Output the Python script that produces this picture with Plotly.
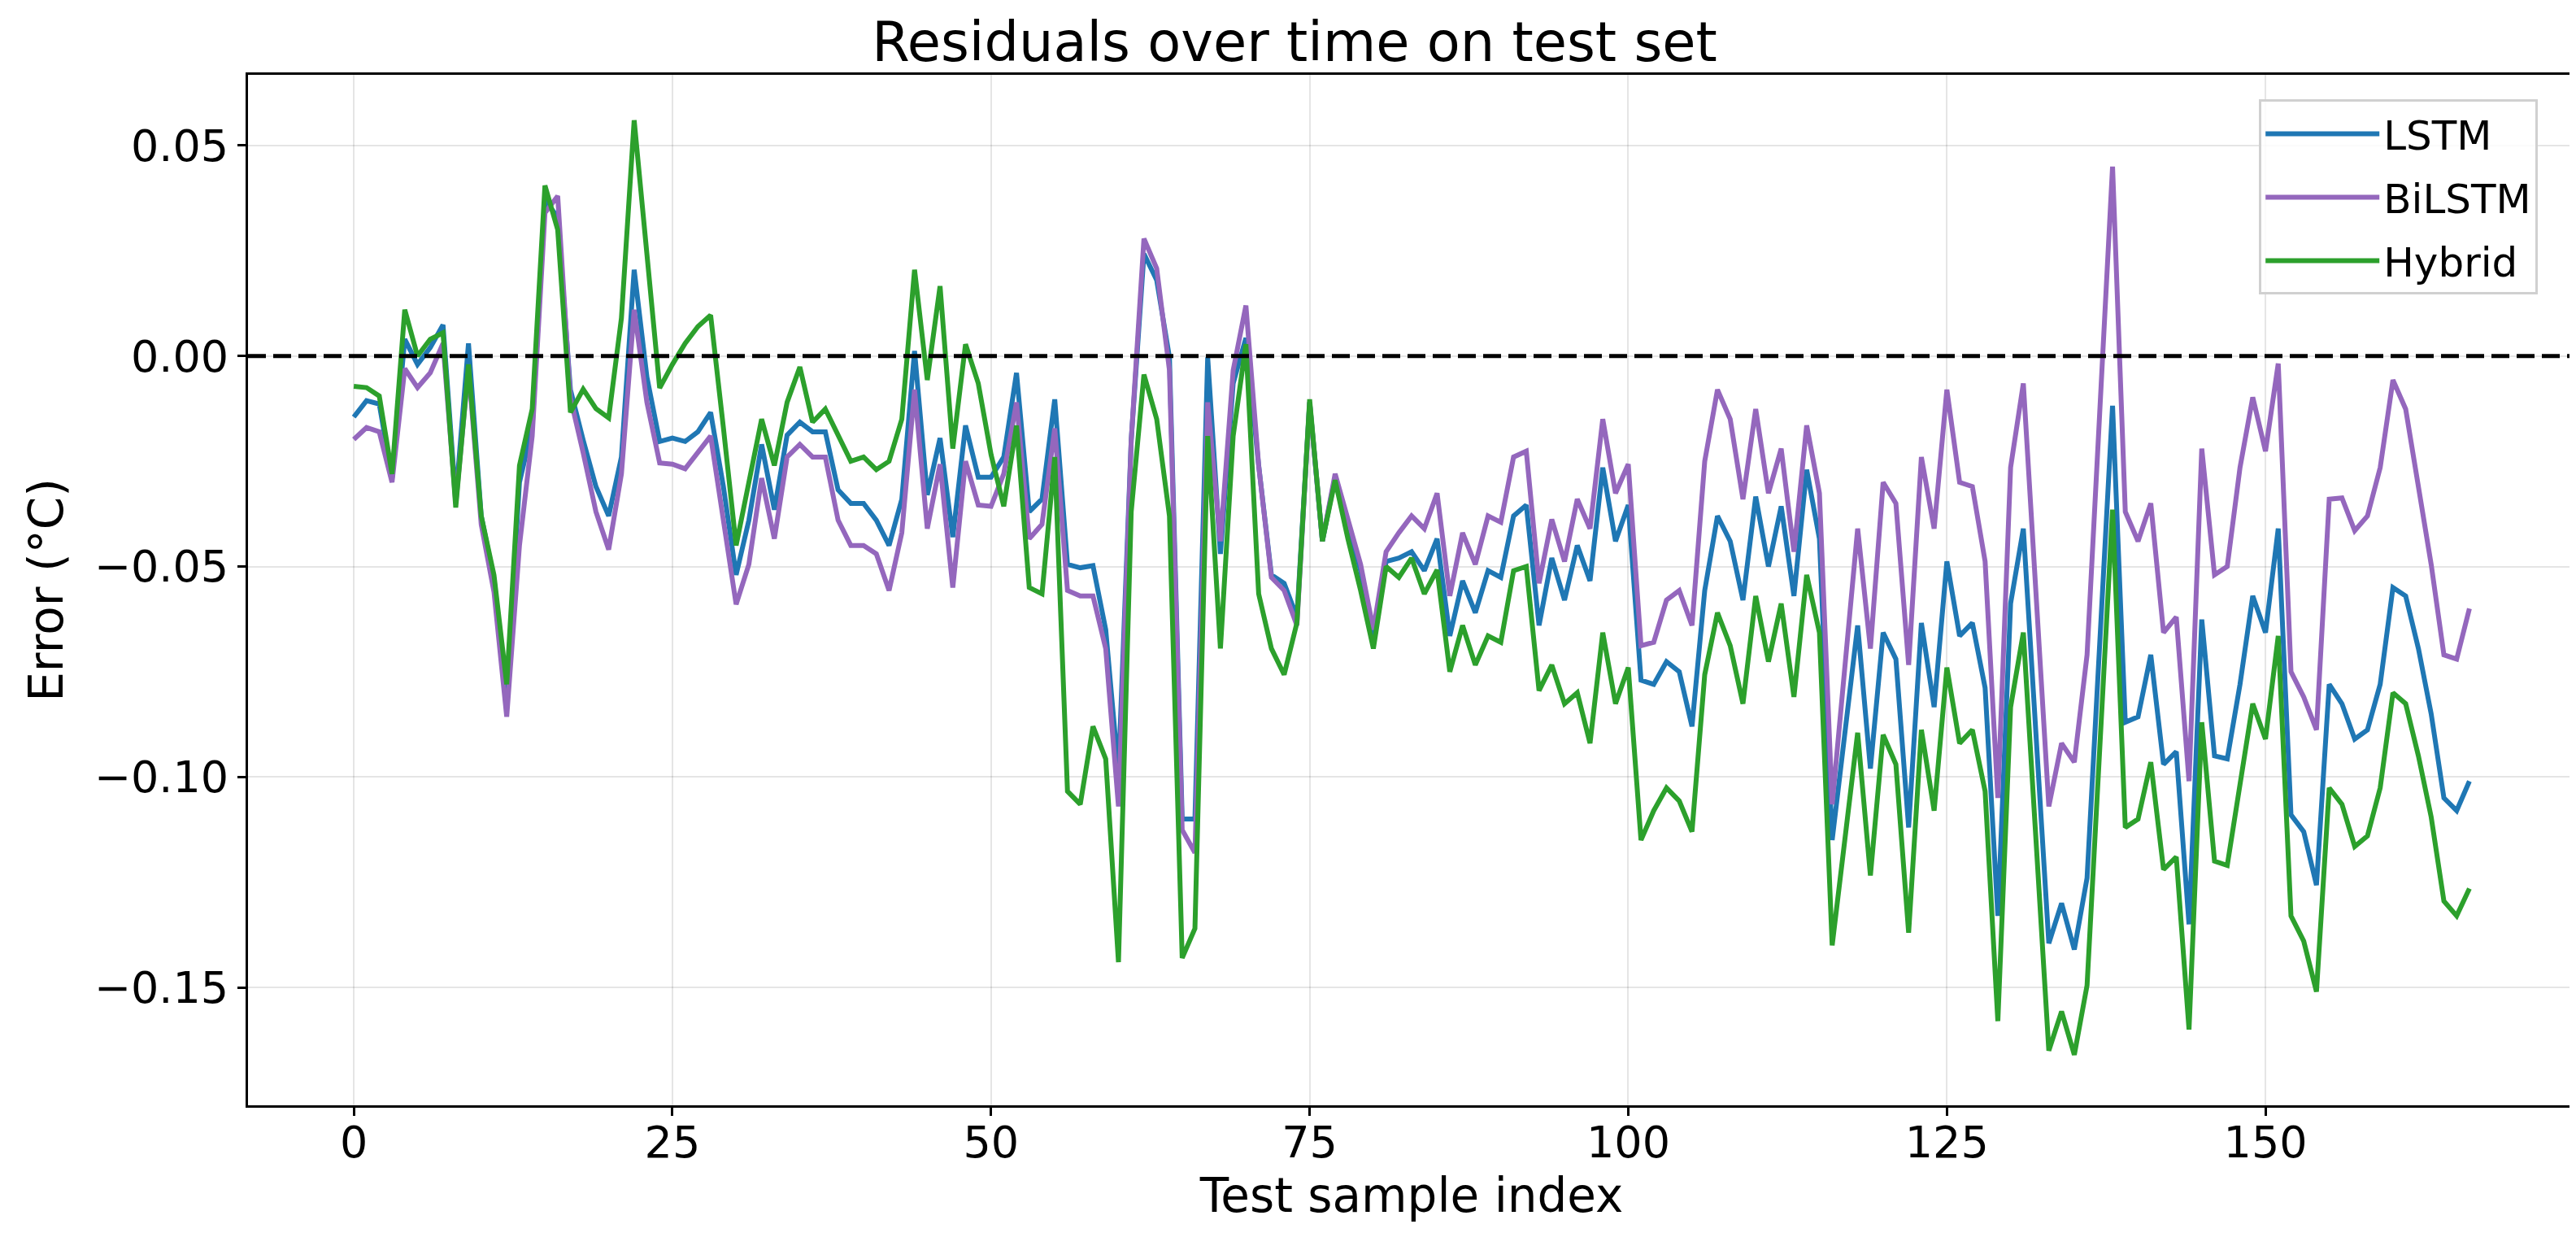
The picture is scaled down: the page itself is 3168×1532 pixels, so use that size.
import plotly.graph_objects as go

lstm = [-0.0145, -0.0106, -0.0114, -0.029, 0.004, -0.002, 0.002, 0.0074, -0.034, 0.003,
        -0.038, -0.053, -0.080, -0.030, -0.017, 0.037, 0.033, -0.008, -0.020, -0.031,
        -0.038, -0.024, 0.0205, -0.005, -0.0203, -0.0195, -0.0203, -0.018, -0.0134, -0.031,
        -0.052, -0.039, -0.021, -0.0365, -0.0188, -0.0157, -0.018, -0.018, -0.0318, -0.035,
        -0.035, -0.039, -0.045, -0.034, 0.0012, -0.033, -0.0195, -0.043, -0.0165, -0.0288,
        -0.0288, -0.024, -0.004, -0.037, -0.034, -0.0103, -0.0495, -0.0503, -0.0498, -0.065,
        -0.099, -0.020, 0.0243, 0.018, -0.0003, -0.110, -0.110, -0.0003, -0.047, -0.0065,
        0.0043, -0.026, -0.052, -0.054, -0.062, -0.011, -0.044, -0.0288, -0.040, -0.051,
        -0.0665, -0.0488, -0.048, -0.0465, -0.051, -0.0434, -0.0665, -0.0534, -0.061, -0.051,
        -0.0526, -0.038, -0.0354, -0.064, -0.048, -0.058, -0.045, -0.0534, -0.0265, -0.044,
        -0.0354, -0.077, -0.078, -0.0726, -0.075, -0.088, -0.0557, -0.038, -0.044, -0.058,
        -0.0334, -0.050, -0.0357, -0.057, -0.027, -0.0434, -0.115, -0.0888, -0.064, -0.098,
        -0.0657, -0.072, -0.112, -0.0634, -0.0834, -0.0488, -0.0665, -0.0634, -0.0788, -0.133,
        -0.0588, -0.041, -0.091, -0.1395, -0.130, -0.141, -0.124, -0.068, -0.0118, -0.087,
        -0.0857, -0.071, -0.097, -0.094, -0.135, -0.0626, -0.095, -0.0957, -0.078, -0.057,
        -0.0657, -0.041, -0.109, -0.113, -0.1257, -0.078, -0.0826, -0.091, -0.0888, -0.078,
        -0.055, -0.057, -0.0695, -0.085, -0.105, -0.108, -0.101]

bilstm = [-0.0198, -0.017, -0.018, -0.030, -0.003, -0.0075, -0.004, 0.003, -0.035, -0.003,
          -0.040, -0.056, -0.0857, -0.045, -0.019, 0.034, 0.038, -0.010, -0.023, -0.037,
          -0.046, -0.028, 0.011, -0.011, -0.0254, -0.0257, -0.0268, -0.023, -0.019, -0.039,
          -0.059, -0.0495, -0.029, -0.0434, -0.024, -0.021, -0.024, -0.024, -0.039, -0.045,
          -0.045, -0.047, -0.0557, -0.042, -0.008, -0.041, -0.0257, -0.055, -0.025, -0.0354,
          -0.0357, -0.028, -0.011, -0.0434, -0.040, -0.0172, -0.0557, -0.057, -0.057, -0.0695,
          -0.107, -0.020, 0.0279, 0.0208, -0.0034, -0.1126, -0.118, -0.011, -0.044, -0.0034,
          0.012, -0.026, -0.0526, -0.0557, -0.064, -0.011, -0.044, -0.028, -0.039, -0.0495,
          -0.065, -0.0465, -0.042, -0.038, -0.041, -0.0326, -0.057, -0.042, -0.0495, -0.038,
          -0.0395, -0.024, -0.0226, -0.054, -0.0388, -0.0488, -0.034, -0.041, -0.015, -0.0326,
          -0.0257, -0.0688, -0.068, -0.058, -0.0557, -0.064, -0.025, -0.008, -0.015, -0.034,
          -0.0126, -0.0326, -0.022, -0.0465, -0.0165, -0.0326, -0.1065, -0.074, -0.041, -0.0695,
          -0.030, -0.035, -0.0734, -0.024, -0.041, -0.008, -0.030, -0.031, -0.0488, -0.105,
          -0.0265, -0.0065, -0.057, -0.107, -0.092, -0.0965, -0.071, -0.0126, 0.045, -0.037,
          -0.044, -0.035, -0.0657, -0.062, -0.101, -0.022, -0.052, -0.050, -0.0265, -0.0098,
          -0.0226, -0.0018, -0.075, -0.081, -0.0888, -0.034, -0.0337, -0.0415, -0.038, -0.0265,
          -0.0057, -0.0126, -0.031, -0.0495, -0.071, -0.072, -0.060]

hybrid = [-0.0072, -0.0075, -0.0095, -0.028, 0.011, 0.0, 0.004, 0.0055, -0.036, -0.002,
          -0.038, -0.052, -0.078, -0.026, -0.0126, 0.0405, 0.030, -0.0134, -0.0079, -0.0125,
          -0.0147, 0.009, 0.056, 0.024, -0.0076, -0.002, 0.003, 0.007, 0.0097, -0.017,
          -0.045, -0.030, -0.015, -0.026, -0.011, -0.0026, -0.0157, -0.0126, -0.019, -0.025,
          -0.024, -0.027, -0.025, -0.015, 0.0205, -0.0057, 0.0166, -0.022, 0.0028, -0.0065,
          -0.0234, -0.0357, -0.0165, -0.055, -0.0565, -0.024, -0.1034, -0.1065, -0.088, -0.0957,
          -0.144, -0.037, -0.0044, -0.015, -0.038, -0.143, -0.136, -0.019, -0.0695, -0.019,
          0.0028, -0.0565, -0.0695, -0.0757, -0.0634, -0.0103, -0.044, -0.0295, -0.0434, -0.0557,
          -0.0695, -0.050, -0.0526, -0.048, -0.0565, -0.0508, -0.075, -0.064, -0.0734, -0.0665,
          -0.068, -0.051, -0.050, -0.0795, -0.0734, -0.0826, -0.080, -0.092, -0.0657, -0.0826,
          -0.074, -0.115, -0.108, -0.1026, -0.1057, -0.113, -0.0757, -0.061, -0.0688, -0.0826,
          -0.057, -0.0726, -0.0588, -0.081, -0.052, -0.0657, -0.140, -0.114, -0.0895, -0.1234,
          -0.090, -0.097, -0.137, -0.0888, -0.108, -0.074, -0.092, -0.0888, -0.1034, -0.158,
          -0.0834, -0.0657, -0.1157, -0.165, -0.1557, -0.166, -0.1495, -0.0926, -0.0365, -0.112,
          -0.110, -0.0965, -0.122, -0.119, -0.160, -0.087, -0.120, -0.121, -0.101, -0.0826,
          -0.091, -0.0665, -0.133, -0.139, -0.151, -0.1026, -0.1065, -0.1165, -0.114, -0.1026,
          -0.080, -0.0826, -0.095, -0.1095, -0.1295, -0.133, -0.1265]

series_names = ["LSTM", "BiLSTM", "Hybrid"]
series_colors = ["#1f77b4", "#9467bd", "#2ca02c"]
series_values = [lstm, bilstm, hybrid]

x_ticks = [0, 25, 50, 75, 100, 125, 150]
y_ticks = [-0.15, -0.10, -0.05, 0.00, 0.05]

FONT = "DejaVu Sans"

fig = go.Figure()
for name, color, vals in zip(series_names, series_colors, series_values):
    fig.add_trace(go.Scatter(x=list(range(len(vals))), y=vals, mode="lines", name=name,
                             legendgroup=name,
                             line=dict(color=color, width=6)))

fig.add_hline(y=0, line=dict(color="black", width=5, dash="22px,9px"), layer="above")

fig.update_layout(
    width=3168, height=1532, autosize=False,
    margin=dict(l=297, r=6, t=84, b=181),
    paper_bgcolor="white", plot_bgcolor="white",
    font=dict(family=FONT, color="black", size=54),
    title=dict(text="Residuals over time on test set", x=0.5, xanchor="center",
               y=1 - 44 / 1532, yanchor="middle", font=dict(size=67, family=FONT)),
    legend=dict(x=0.984, y=0.976, xanchor="right", yanchor="top",
                bgcolor="rgba(255,255,255,0.85)", bordercolor="#d0d0d0", borderwidth=3,
                font=dict(size=50, family=FONT), itemwidth=140, tracegroupgap=10),
    showlegend=True,
)

fig.update_xaxes(
    range=[-8.3, 174.3], tickmode="array", tickvals=x_ticks,
    ticks="outside", ticklen=10, tickwidth=2.5, ticklabelstandoff=-14,
    tickcolor="black", showline=True, linecolor="black", linewidth=3, mirror=True,
    showgrid=True, gridcolor="rgba(0,0,0,0.1)", gridwidth=2, zeroline=False,
    title=dict(text="Test sample index", font=dict(size=58, family=FONT), standoff=14),
    tickfont=dict(size=54, family=FONT),
)
fig.update_yaxes(
    range=[-0.178, 0.0668], tickmode="array", tickvals=y_ticks, tickformat=".2f",
    ticks="outside", ticklen=10, tickwidth=2.5, tickcolor="black", showline=True,
    linecolor="black", linewidth=3, mirror=True, showgrid=True,
    gridcolor="rgba(0,0,0,0.1)", gridwidth=2, zeroline=False,
    title=dict(text="Error (°C)", font=dict(size=58, family=FONT), standoff=20),
    tickfont=dict(size=54, family=FONT),
)

fig.write_html("out.html")
